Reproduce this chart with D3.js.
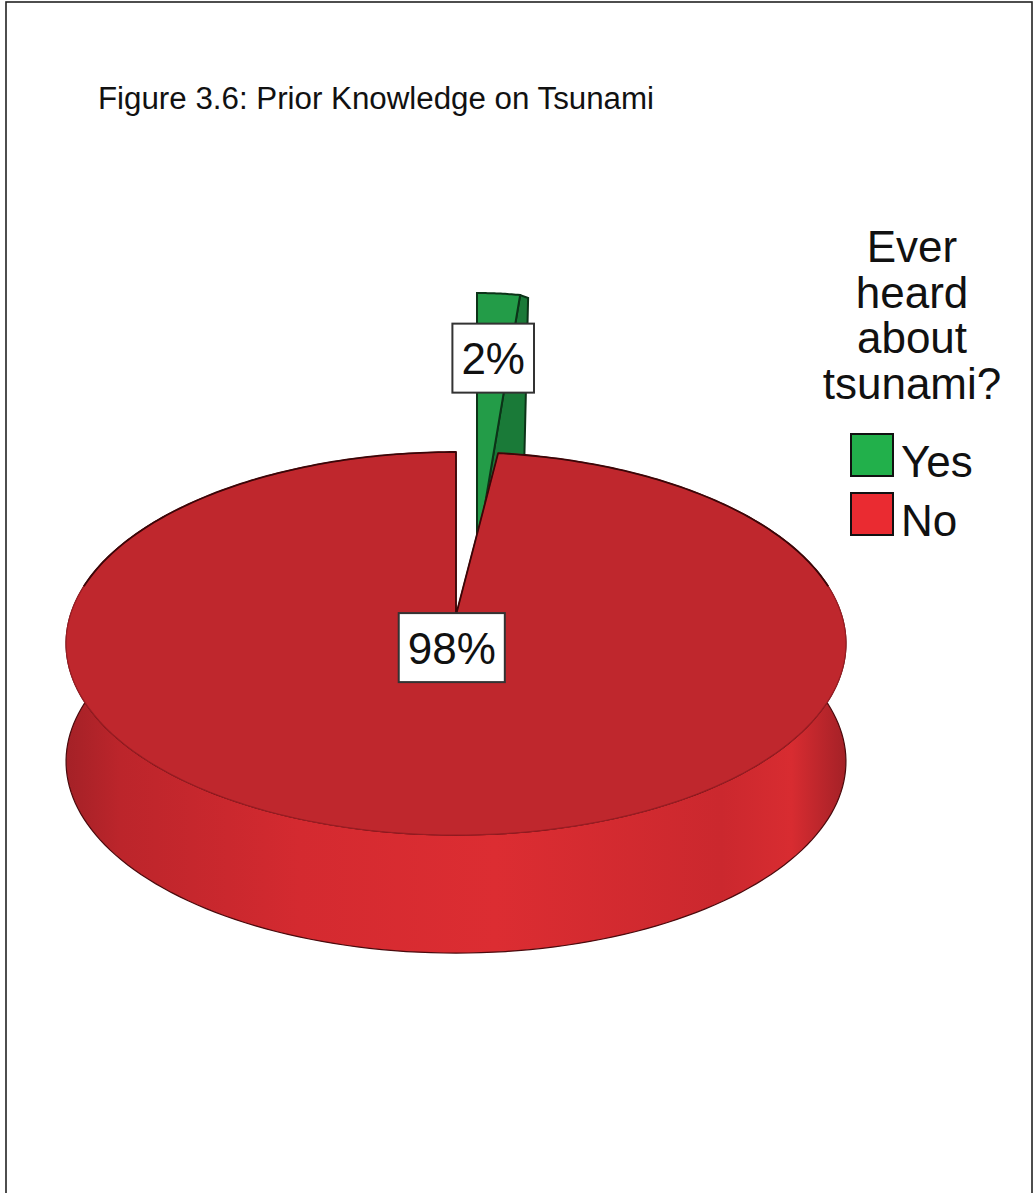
<!DOCTYPE html>
<html>
<head>
<meta charset="utf-8">
<script src="https://cdn.jsdelivr.net/npm/d3@7"></script>
<style>
  html, body { margin: 0; padding: 0; background: #fff; }
  svg { display: block; }
  text { font-family: "Liberation Sans", Arial, sans-serif; fill: #111; }
</style>
</head>
<body>
<script>
// Survey answers: "Ever heard about tsunami?"
const categories = ["Yes", "No"];
const percents = [2, 98];
const percentLabels = ["2%", "98%"];
const legendTitle = ["Ever", "heard", "about", "tsunami?"];
const chartTitle = "Figure 3.6: Prior Knowledge on Tsunami";
const explodedCategory = "Yes";

const W = 1036, H = 1193;
const svg = d3.select("body").append("svg").attr("width", W).attr("height", H);

// outer frame
svg.append("rect").attr("x", 6).attr("y", 2).attr("width", 1026).attr("height", H + 10)
  .attr("fill", "none").attr("stroke", "#222").attr("stroke-width", 1.6);

svg.append("text").attr("x", 98).attr("y", 109).attr("font-size", 31)
  .attr("textLength", 556).attr("lengthAdjust", "spacingAndGlyphs")
  .text(chartTitle);

// colours
const topColor = d3.scaleOrdinal().domain(categories).range(["#239c48", "#bf272d"]);
const wallColor = d3.scaleOrdinal().domain(categories).range(["#1a7a38", "#d62c31"]);
const swatchColor = d3.scaleOrdinal().domain(categories).range(["#22b04b", "#ea2b31"]);

// pie layout, clockwise from 12 o'clock
const pie = d3.pie().sort(null).value(d => d.value);
const arcs = pie(categories.map((c, i) => ({ cat: c, value: percents[i], label: percentLabels[i] })));

// perspective projection of the disc: u to the right, v away from the viewer
const P = { cx: 456, cy: 615, k: 385.6, k2: 187.3, a: 0.149, depth: 118 };
function proj(angle, r, drop = 0) {
  const u = r * Math.sin(angle), v = r * Math.cos(angle);
  const s = 1 + P.a * v;
  return [P.cx + P.k * u / s, P.cy - P.k2 * v / s + drop];
}
// the pulled-out slice is drawn with its own frame
const E = { x: 477, y: 552, sx: 344, sy: 259 };
function projOut(angle, r) {
  return [E.x + E.sx * r * Math.sin(angle), E.y - E.sy * r * Math.cos(angle)];
}
const line = d3.line();
function rimPoints(a0, a1, f, n = 160) {
  return d3.range(n + 1).map(i => f(a0 + (a1 - a0) * i / n));
}

const defs = svg.append("defs");
const grad = defs.append("linearGradient").attr("id", "sideGrad")
  .attr("gradientUnits", "userSpaceOnUse").attr("x1", 66).attr("x2", 846).attr("y1", 0).attr("y2", 0);
[[0, "#a42127"], [0.07, "#bc252b"], [0.3, "#d42a30"], [0.55, "#dc2d32"], [0.84, "#cb282e"], [0.93, "#d82c31"], [1, "#a42127"]]
  .forEach(([o, c]) => grad.append("stop").attr("offset", o).attr("stop-color", c));

const out = arcs.find(d => d.data.cat === explodedCategory);
const main = arcs.filter(d => d.data.cat !== explodedCategory);

// --- pulled-out slice (behind the main body) ---
{
  const a0 = out.startAngle, a1 = out.endAngle;
  const apex = projOut(0, 0);
  const rimEnd = projOut(a1, 1);
  // side wall along the trailing cut
  const wall = [apex, rimEnd, [rimEnd[0] + 8, rimEnd[1] + 3], [apex[0] + 45, apex[1] + 5]];
  svg.append("path").attr("d", line(wall) + "Z")
    .attr("fill", wallColor(out.data.cat)).attr("stroke", "#0c3318").attr("stroke-width", 2);
  const face = [apex, ...rimPoints(a0, a1, a => projOut(a, 1), 20)];
  svg.append("path").attr("d", line(face) + "Z")
    .attr("fill", topColor(out.data.cat)).attr("stroke", "#0c3318").attr("stroke-width", 2);
}

// --- main body: side wall then top face ---
main.forEach(d => {
  const a0 = Math.max(d.startAngle, Math.PI * 0.3), a1 = Math.min(d.endAngle, Math.PI * 1.7);
  const top = rimPoints(a0, a1, a => proj(a, 1));
  const bottom = rimPoints(a1, a0, a => proj(a, 1, P.depth));
  svg.append("path").attr("d", line([...top, ...bottom]) + "Z")
    .attr("fill", "url(#sideGrad)").attr("stroke", "#4a0a0d").attr("stroke-width", 1.2);
});
main.forEach(d => {
  const face = [proj(0, 0), ...rimPoints(d.startAngle, d.endAngle, a => proj(a, 1), 360)];
  svg.append("path").attr("d", line(face) + "Z")
    .attr("fill", topColor(d.data.cat)).attr("stroke", "#9a1d23").attr("stroke-width", 1.2)
    .attr("stroke-linejoin", "round");
  // dark silhouette along the far rim and the cut edges
  const back = [...rimPoints(Math.PI * 1.55, d.endAngle, a => proj(a, 1), 80), proj(0, 0),
                ...rimPoints(d.startAngle, Math.PI * 0.45, a => proj(a, 1), 80)];
  svg.append("path").attr("d", line(back)).attr("fill", "none")
    .attr("stroke", "#3a0608").attr("stroke-width", 1.8).attr("stroke-linejoin", "round");
});

// --- value labels in boxes ---
function drawLabel(pt, text) {
  const g = svg.append("g");
  const t = g.append("text").attr("x", pt[0]).attr("y", pt[1] + 16)
    .attr("text-anchor", "middle").attr("font-size", 44).text(text);
  const bb = t.node().getBBox();
  g.insert("rect", "text").attr("x", bb.x - 9).attr("y", pt[1] - 34.5)
    .attr("width", bb.width + 18).attr("height", 69)
    .attr("fill", "#fff").attr("stroke", "#333").attr("stroke-width", 2);
}
drawLabel(projOut((out.startAngle + out.endAngle) / 2, 0.75), out.data.label);
main.forEach(d => drawLabel(proj((d.startAngle + d.endAngle) / 2, 0.17), d.data.label));

// --- legend ---
const lg = svg.append("g");
legendTitle.forEach((s, i) => {
  lg.append("text").attr("x", 912).attr("y", 262 + i * 45.5)
    .attr("text-anchor", "middle").attr("font-size", 44).text(s);
});
categories.forEach((c, i) => {
  const y = 434 + i * 59;
  lg.append("rect").attr("x", 851).attr("y", y).attr("width", 42).attr("height", 42)
    .attr("fill", swatchColor(c)).attr("stroke", "#111").attr("stroke-width", 2);
  lg.append("text").attr("x", 901).attr("y", y + 43).attr("font-size", 44).text(c);
});
</script>
</body>
</html>
